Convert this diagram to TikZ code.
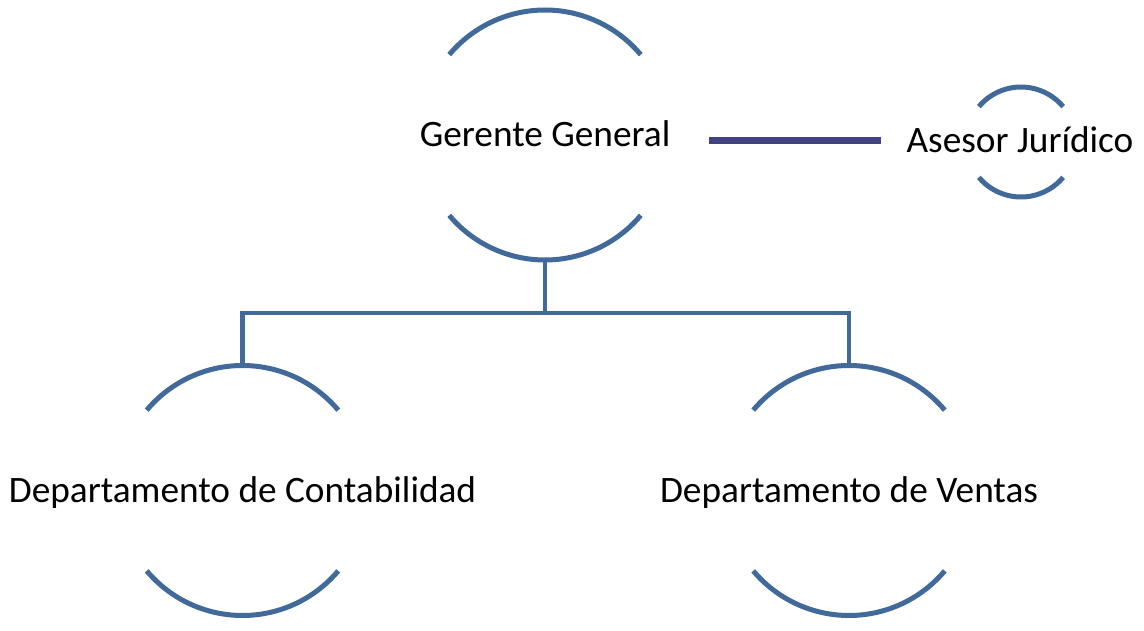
\documentclass[tikz,border=0pt]{standalone}
\usepackage{fontspec}
\setmainfont{Carlito}
\definecolor{arcblue}{HTML}{41699A}
\definecolor{linkpurple}{HTML}{404282}
\begin{document}
\begin{tikzpicture}[x=1pt,y=1pt,
  halfarc/.style={draw=arcblue, line width=5pt},
  orgline/.style={draw=arcblue, line width=4.8pt},
  sideline/.style={draw=linkpurple, line width=7pt},
  label/.style={font=\fontsize{37.3}{40}\selectfont, inner sep=0pt, anchor=base},
  ring/.style={circle, inner sep=0pt, minimum size=#1}]
\useasboundingbox (0,0) rectangle (1144,-631);
% ring placeholders
\node[ring=250pt] (g) at (545,-135) {};
\node[ring=110pt] (a) at (1021,-142) {};
\node[ring=250pt] (c) at (242.5,-490.5) {};
\node[ring=250pt] (v) at (849,-490.5) {};
% arcs
\foreach \n/\r in {g/125,a/55,c/125,v/125}{
  \draw[halfarc] ([shift={(140:\r)}]\n.center) arc[start angle=140,end angle=40,radius=\r];
  \draw[halfarc] ([shift={(220:\r)}]\n.center) arc[start angle=220,end angle=320,radius=\r];
}
% texts
\node[label] (gt) at (545,-147) {Gerente General};
\node[label] (at) at (1020,-153) {Asesor Jurídico};
\node[label] (ct) at (242.5,-502) {Departamento de Contabilidad};
\node[label] (vt) at (849,-502) {Departamento de Ventas};
% connectors
\coordinate (j) at (545,-313);
\draw[orgline] (g.south) -- (j);
\draw[orgline] (j) -| (c.north);
\draw[orgline] (j) -| (v.north);
\coordinate (s1) at (709,-141);
\coordinate (s2) at (881,-141);
\draw[sideline] (s1) -- (s2);
\end{tikzpicture}
\end{document}
